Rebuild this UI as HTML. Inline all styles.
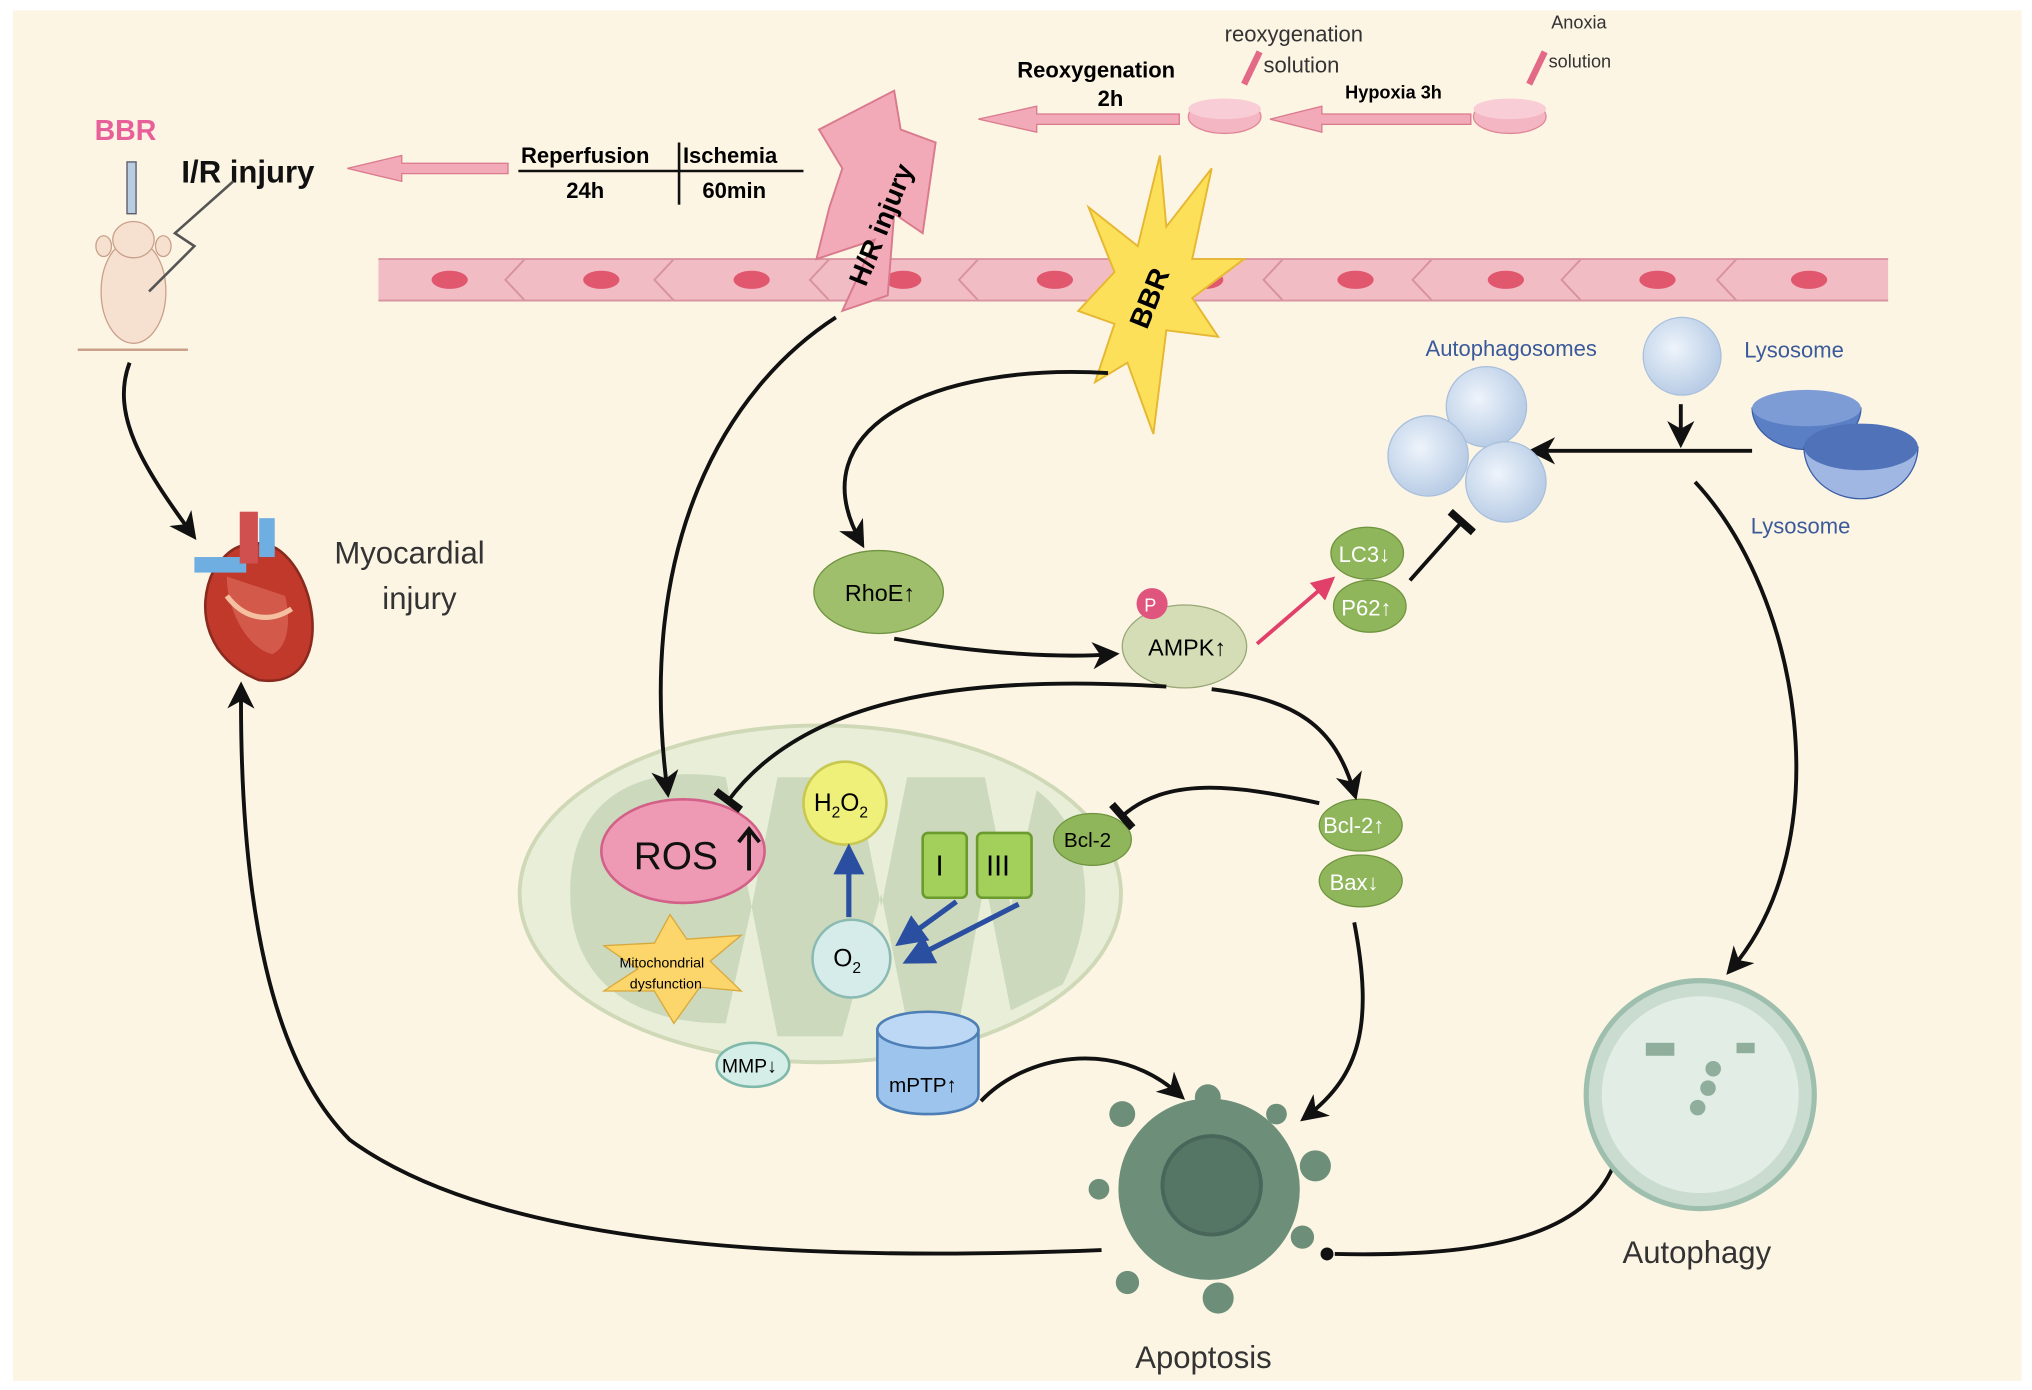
<!DOCTYPE html>
<html><head><meta charset="utf-8"><style>
html,body{margin:0;padding:0;background:#fff;}
svg{display:block;font-family:"Liberation Sans",Arial,sans-serif;}
</style></head><body>
<svg width="2032" height="1390" viewBox="0 0 1568 1073" preserveAspectRatio="none">
<defs>
<marker id="ab" markerWidth="7" markerHeight="7" refX="5" refY="3.5" orient="auto" markerUnits="strokeWidth"><path d="M0,0 L7,3.5 L0,7 L2,3.5 z" fill="#111"/></marker>
<marker id="abl" markerWidth="6" markerHeight="6" refX="5" refY="3" orient="auto" markerUnits="strokeWidth"><path d="M0,0 L6,3 L0,6 z" fill="#2b4fa0"/></marker>
<marker id="ar" markerWidth="6" markerHeight="6" refX="5" refY="3" orient="auto" markerUnits="strokeWidth"><path d="M0,0 L6,3 L0,6 z" fill="#e0406a"/></marker>
<marker id="tb" markerWidth="4" markerHeight="8" refX="2" refY="4" orient="auto" markerUnits="strokeWidth"><path d="M2,0 L2,8" stroke="#111" stroke-width="2"/></marker>
<radialGradient id="bub" cx="0.4" cy="0.4" r="0.6"><stop offset="0" stop-color="#eef4fb"/><stop offset="1" stop-color="#b9cde6"/></radialGradient>
</defs>
<rect x="0" y="0" width="1568" height="1073" fill="#fff"/>
<rect x="10" y="8" width="1550" height="1058" fill="#fdf5e4"/>

<g>
<rect x="292" y="200" width="1165" height="32" fill="#f1bcc4"/>
<g fill="#e0576e">
<ellipse cx="347" cy="216" rx="14" ry="7"/><ellipse cx="464" cy="216" rx="14" ry="7"/><ellipse cx="580" cy="216" rx="14" ry="7"/><ellipse cx="697" cy="216" rx="14" ry="7"/><ellipse cx="814" cy="216" rx="14" ry="7"/><ellipse cx="930" cy="216" rx="14" ry="7"/><ellipse cx="1046" cy="216" rx="14" ry="7"/><ellipse cx="1162" cy="216" rx="14" ry="7"/><ellipse cx="1279" cy="216" rx="14" ry="7"/><ellipse cx="1396" cy="216" rx="14" ry="7"/>
</g>
<g stroke="#d892a0" stroke-width="1.5" fill="none">
<path d="M292,200 L1457,200 M292,232 L1457,232"/>
<path d="M405,200 L390,216 L405,232 M520,200 L505,216 L520,232 M640,200 L625,216 L640,232 M755,200 L740,216 L755,232 M870,200 L855,216 L870,232 M990,200 L975,216 L990,232 M1105,200 L1090,216 L1105,232 M1220,200 L1205,216 L1220,232 M1340,200 L1325,216 L1340,232"/>
</g>
</g>

<text x="73" y="108" font-size="22" font-weight="bold" fill="#e8609a">BBR</text>
<text x="140" y="141" font-size="24" font-weight="bold" fill="#111">I/R injury</text>
<path d="M268,130 L310,120 L310,126 L392,126 L392,134 L310,134 L310,140 z" fill="#f3aab8" stroke="#d97a8d"/>
<text x="402" y="126" font-size="17" font-weight="bold">Reperfusion</text>
<text x="527" y="126" font-size="17" font-weight="bold">Ischemia</text>
<line x1="400" y1="132" x2="620" y2="132" stroke="#111" stroke-width="2"/>
<line x1="524" y1="110" x2="524" y2="158" stroke="#111" stroke-width="2"/>
<text x="437" y="153" font-size="17" font-weight="bold">24h</text>
<text x="542" y="153" font-size="17" font-weight="bold">60min</text>
<text x="785" y="60" font-size="17" font-weight="bold">Reoxygenation</text>
<text x="847" y="82" font-size="17" font-weight="bold">2h</text>
<path d="M755,92 L800,82 L800,88 L910,88 L910,96 L800,96 L800,102 z" fill="#f3aab8" stroke="#d97a8d"/>
<path d="M980,92 L1020,82 L1020,88 L1135,88 L1135,96 L1020,96 L1020,102 z" fill="#f3aab8" stroke="#d97a8d"/>
<text x="1038" y="76" font-size="14" font-weight="bold">Hypoxia 3h</text>
<text x="945" y="32" font-size="17" fill="#333">reoxygenation</text>
<text x="975" y="56" font-size="17" fill="#333">solution</text>
<text x="1197" y="22" font-size="14" fill="#333">Anoxia</text>
<text x="1195" y="52" font-size="14" fill="#333">solution</text>
<ellipse cx="945" cy="90" rx="28" ry="13" fill="#f4b6c2" stroke="#e08898"/>
<ellipse cx="945" cy="84" rx="28" ry="8" fill="#f8cdd5"/>
<ellipse cx="1165" cy="90" rx="28" ry="13" fill="#f4b6c2" stroke="#e08898"/>
<ellipse cx="1165" cy="84" rx="28" ry="8" fill="#f8cdd5"/>
<line x1="972" y1="40" x2="960" y2="65" stroke="#e36a86" stroke-width="5"/>
<line x1="1192" y1="40" x2="1180" y2="65" stroke="#e36a86" stroke-width="5"/>

<path d="M632,100 L690,70 L695,100 L722,110 L712,180 L690,165 L685,228 L650,240 L675,185 L630,200 L640,160 L650,130 z" fill="#f3aab8" stroke="#d97a8d" stroke-width="1.5"/>
<text x="0" y="0" font-size="21" font-weight="bold" transform="translate(668,222) rotate(-68)">H/R injury</text>
<path d="M895,120 L900,175 L935,130 L920,200 L960,200 L920,230 L940,260 L900,255 L890,335 L870,280 L845,295 L860,250 L832,240 L860,210 L840,160 L878,190 z" fill="#fde05a" stroke="#e6b832" stroke-width="1.5"/>
<text x="0" y="0" font-size="22" font-weight="bold" transform="translate(885,255) rotate(-68)">BBR</text>

<g>
<ellipse cx="103" cy="225" rx="25" ry="40" fill="#f6e0d0" stroke="#c9a08a"/>
<ellipse cx="103" cy="185" rx="16" ry="14" fill="#f6e0d0" stroke="#c9a08a"/>
<ellipse cx="80" cy="190" rx="6" ry="8" fill="#f6e0d0" stroke="#c9a08a"/>
<ellipse cx="126" cy="190" rx="6" ry="8" fill="#f6e0d0" stroke="#c9a08a"/>
<rect x="98" y="125" width="7" height="40" fill="#b8cde0" stroke="#556"/>
<path d="M115,225 L150,190 L135,180 L180,140" stroke="#555" stroke-width="2" fill="none"/>
<path d="M60,270 L145,270" stroke="#c9a08a" stroke-width="2"/>
</g>
<path d="M100,280 C85,320 110,360 148,412" stroke="#111" stroke-width="3" fill="none" marker-end="url(#ab)"/>

<g>
<path d="M165,440 C150,470 160,510 200,525 C235,530 245,500 240,470 C235,440 215,415 195,420 C180,420 172,430 165,440 z" fill="#c0392b" stroke="#8a2a1e" stroke-width="2"/>
<path d="M175,445 C175,470 190,500 210,505 C222,500 225,480 220,460 z" fill="#e07060" opacity="0.6"/>
<rect x="150" y="430" width="40" height="12" fill="#6faee0"/>
<rect x="185" y="395" width="14" height="40" fill="#d05050"/>
<rect x="200" y="400" width="12" height="30" fill="#6faee0"/>
<path d="M175,460 C190,480 210,480 225,470" stroke="#f4c0a0" stroke-width="4" fill="none"/>
</g>
<text x="258" y="435" font-size="24" fill="#333">Myocardial</text>
<text x="295" y="470" font-size="24" fill="#333">injury</text>

<ellipse cx="633" cy="690" rx="232" ry="130" fill="#e8eed8" stroke="#cfd9b8" stroke-width="3"/>
<path d="M440,690 C440,610 500,590 560,600 L580,700 L600,600 L660,600 L680,700 L700,600 L760,600 L780,700 L800,610 C840,640 850,700 820,760 L780,780 L760,680 L740,790 L700,790 L680,690 L650,800 L600,800 L580,700 L560,790 C480,790 440,750 440,690 z" fill="#ccd9bc"/>

<ellipse cx="527" cy="657" rx="63" ry="40" fill="#ef9ab4" stroke="#d36089" stroke-width="2"/>
<text x="489" y="671" font-size="30" fill="#111">ROS</text>
<path d="M578,672 L578,640 M570,650 L578,640 L586,650" stroke="#111" stroke-width="3" fill="none"/>
<circle cx="652" cy="620" r="32" fill="#eef07a" stroke="#c8c850" stroke-width="2"/>
<text x="628" y="626" font-size="19">H<tspan font-size="12" dy="5">2</tspan><tspan dy="-5">O</tspan><tspan font-size="12" dy="5">2</tspan></text>
<circle cx="657" cy="740" r="30" fill="#d6eceb" stroke="#8bbab3" stroke-width="2"/>
<text x="643" y="746" font-size="19">O<tspan font-size="12" dy="5">2</tspan></text>
<line x1="655" y1="708" x2="655" y2="655" stroke="#2b4fa0" stroke-width="4" marker-end="url(#abl)"/>
<rect x="712" y="643" width="34" height="50" rx="4" fill="#a3d05a" stroke="#6b9a2e" stroke-width="2"/>
<text x="722" y="676" font-size="22">I</text>
<rect x="754" y="643" width="42" height="50" rx="4" fill="#a3d05a" stroke="#6b9a2e" stroke-width="2"/>
<text x="761" y="676" font-size="22">III</text>
<line x1="738" y1="696" x2="694" y2="728" stroke="#2b4fa0" stroke-width="4" marker-end="url(#abl)"/>
<line x1="786" y1="698" x2="700" y2="742" stroke="#2b4fa0" stroke-width="4" marker-end="url(#abl)"/>
<path d="M517,706 L530,725 L572,722 L548,742 L572,765 L540,762 L520,790 L505,765 L466,765 L492,748 L466,730 L505,728 z" fill="#fcd56b" stroke="#d9a83a"/>
<text x="478" y="747" font-size="11">Mitochondrial</text>
<text x="486" y="763" font-size="11">dysfunction</text>
<ellipse cx="581" cy="822" rx="28" ry="17" fill="#d6eee8" stroke="#7fb9aa" stroke-width="2"/>
<text x="557" y="828" font-size="15">MMP↓</text>
<path d="M677,795 L677,845 C677,865 755,865 755,845 L755,795 z" fill="#9cc4ec" stroke="#4d7fb6" stroke-width="2"/>
<ellipse cx="716" cy="795" rx="39" ry="14" fill="#bcd8f4" stroke="#4d7fb6" stroke-width="2"/>
<text x="686" y="843" font-size="16">mPTP↑</text>

<ellipse cx="678" cy="457" rx="50" ry="32" fill="#9fbf6d" stroke="#6f9440"/>
<text x="652" y="464" font-size="18">RhoE↑</text>
<ellipse cx="914" cy="499" rx="48" ry="32" fill="#d4ddb6" stroke="#99a878"/>
<text x="886" y="506" font-size="18">AMPK↑</text>
<circle cx="889" cy="466" r="12" fill="#e0557d"/>
<text x="883" y="472" font-size="14" fill="#fff">P</text>
<ellipse cx="1055" cy="427" rx="28" ry="20" fill="#8fb65a" stroke="#6f9440"/>
<text x="1033" y="434" font-size="17" fill="#fff">LC3↓</text>
<ellipse cx="1057" cy="468" rx="28" ry="20" fill="#8fb65a" stroke="#6f9440"/>
<text x="1035" y="475" font-size="17" fill="#fff">P62↑</text>
<ellipse cx="1050" cy="637" rx="32" ry="20" fill="#8fb65a" stroke="#6f9440"/>
<text x="1021" y="643" font-size="17" fill="#fff">Bcl-2↑</text>
<ellipse cx="1050" cy="680" rx="32" ry="20" fill="#8fb65a" stroke="#6f9440"/>
<text x="1026" y="687" font-size="17" fill="#fff">Bax↓</text>
<ellipse cx="843" cy="648" rx="30" ry="20" fill="#8fb65a" stroke="#6f9440"/>
<text x="821" y="654" font-size="16">Bcl-2</text>

<g stroke="#111" stroke-width="3" fill="none">
<path d="M645,245 C560,300 490,420 515,610" marker-end="url(#ab)"/>
<path d="M855,288 C720,280 615,330 664,418" marker-end="url(#ab)"/>
<path d="M690,493 C760,505 820,508 858,505" marker-end="url(#ab)"/>
<path d="M900,530 C740,520 620,540 562,618" marker-end="url(#tb)"/>
<path d="M935,532 C1000,540 1030,560 1045,612" marker-end="url(#ab)"/>
<path d="M1018,620 C950,605 900,600 866,630" marker-end="url(#tb)"/>
<path d="M1045,712 C1060,790 1050,830 1008,862" marker-end="url(#ab)"/>
<path d="M757,850 C790,815 860,800 910,845" marker-end="url(#ab)"/>
<path d="M1088,448 L1128,403" marker-end="url(#tb)"/>
<path d="M1352,348 L1185,348" marker-end="url(#ab)"/>
<path d="M1297,312 L1297,340" marker-end="url(#ab)"/>
<path d="M1308,372 C1390,460 1420,650 1336,748" marker-end="url(#ab)"/>
<path d="M1245,900 C1220,960 1130,970 1030,968"/>
<path d="M850,965 C600,975 380,960 270,880 C210,820 185,700 186,532" marker-end="url(#ab)"/>
</g>
<circle cx="1024" cy="968" r="5" fill="#111"/>
<line x1="970" y1="497" x2="1028" y2="447" stroke="#e0406a" stroke-width="3" marker-end="url(#ar)"/>

<text x="1100" y="275" font-size="17" fill="#3a5a9a">Autophagosomes</text>
<text x="1346" y="276" font-size="17" fill="#3a5a9a">Lysosome</text>
<text x="1351" y="412" font-size="17" fill="#3a5a9a">Lysosome</text>
<circle cx="1298" cy="275" r="30" fill="url(#bub)" stroke="#a8bfdc"/>
<circle cx="1147" cy="314" r="31" fill="url(#bub)" stroke="#a8bfdc"/>
<circle cx="1102" cy="352" r="31" fill="url(#bub)" stroke="#a8bfdc"/>
<circle cx="1162" cy="372" r="31" fill="url(#bub)" stroke="#a8bfdc"/>
<path d="M1352,315 A42,32 0 0 0 1436,315 z" fill="#5b7fc4" stroke="#3c5ea6"/>
<ellipse cx="1394" cy="315" rx="42" ry="14" fill="#7d9cd6"/>
<path d="M1392,345 A44,40 0 0 0 1480,345 z" fill="#9fb7e2" stroke="#3c5ea6"/>
<ellipse cx="1436" cy="345" rx="44" ry="18" fill="#4f72b8"/>

<circle cx="1312" cy="845" r="88" fill="#c9dccf" stroke="#9fbfae" stroke-width="4"/>
<circle cx="1312" cy="845" r="76" fill="#e2ede5"/>
<g fill="#8fae9c"><rect x="1270" y="805" width="22" height="10"/><circle cx="1322" cy="825" r="6"/><circle cx="1318" cy="840" r="6"/><circle cx="1310" cy="855" r="6"/><rect x="1340" y="805" width="14" height="8"/></g>
<text x="1252" y="975" font-size="24" fill="#333">Autophagy</text>

<circle cx="933" cy="918" r="70" fill="#6d8f7a"/>
<circle cx="935" cy="915" r="38" fill="#557565" stroke="#48665a" stroke-width="3"/>
<g fill="#6d8f7a"><circle cx="866" cy="860" r="10"/><circle cx="932" cy="847" r="10"/><circle cx="1015" cy="900" r="12"/><circle cx="1005" cy="955" r="9"/><circle cx="940" cy="1002" r="12"/><circle cx="870" cy="990" r="9"/><circle cx="848" cy="918" r="8"/><circle cx="985" cy="860" r="8"/></g>
<text x="876" y="1056" font-size="24" fill="#333">Apoptosis</text>
</svg>
</body></html>
